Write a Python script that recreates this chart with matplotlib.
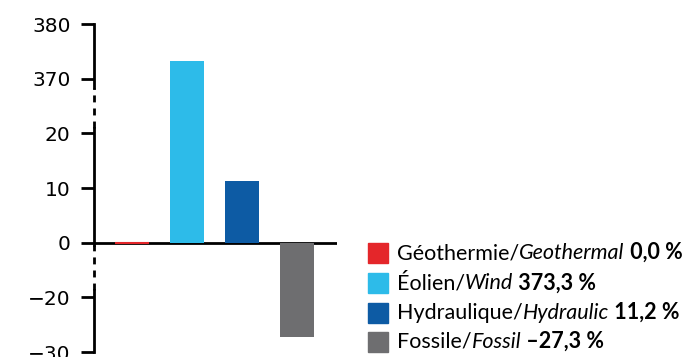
import numpy as np
import matplotlib
matplotlib.use("Agg")
import matplotlib.pyplot as plt
from matplotlib.patches import Rectangle

# energy sources and their change in percent
labels_fr = ["Géothermie/", "Éolien/", "Hydraulique/", "Fossile/"]
labels_en = ["Geothermal", "Wind", "Hydraulic", "Fossil"]
values = [0.0, 373.3, 11.2, -27.3]
value_text = ["0,0 %", "373,3 %", "11,2 %", "\u201327,3 %"]
colors = ["#E4262A", "#2DBBE9", "#0D5BA4", "#6E6E70"]

yticks = [-30, -20, 0, 10, 20, 370, 380]
ytick_labels = ["\u221230", "\u221220", "0", "10", "20", "370", "380"]

# broken y axis: piecewise linear mapping
brk_data = [-30, -20, 0, 20, 370, 380]
brk_pos = [0, 1, 2, 4, 5, 6]

def fwd(y):
    return np.interp(y, brk_data, brk_pos)

def inv(p):
    return np.interp(p, brk_pos, brk_data)

fig = plt.figure(figsize=(6.89, 3.57), dpi=100)
ax = fig.add_axes([93.5 / 689, 1 - 352 / 357, (337 - 93.5) / 689, (352 - 24) / 357])
ax.set_yscale("function", functions=(fwd, inv))
ax.set_ylim(-30, 380)
ax.set_xlim(-0.71, 3.73)

x = np.arange(len(values))
ax.axhline(0, color="black", lw=2, zorder=1)
ax.bar(x, values, width=0.62, color=colors, zorder=2)
# zero-height geothermal bar shows as a thin line
ax.bar(x[0], values[0], width=0.62, color=colors[0], edgecolor=colors[0], lw=1.5, zorder=3)

for s in ["top", "right", "bottom", "left"]:
    ax.spines[s].set_visible(False)
ax.set_xticks([])
ax.set_yticks(yticks)
ax.set_yticklabels(ytick_labels, fontsize=14.5, family="DejaVu Sans")
ax.tick_params(axis="y", direction="out", length=9.5, width=2, pad=7)

# left axis line, dashed over the breaks
u = 54.7
segs = [
    (0, 1 + 7 / u, "-"),
    (1 + 7 / u, 2 - 2 / u, "--"),
    (2 - 2 / u, 4 + 5 / u, "-"),
    (4 + 5 / u, 5 - 9 / u, "--"),
    (5 - 9 / u, 6, "-"),
]
for a, b, ls in segs:
    line, = ax.plot([0, 0], [a / 6, b / 6], transform=ax.transAxes, color="black",
                    lw=2, clip_on=False, solid_capstyle="projecting")
    if ls == "--":
        line.set_dashes([2.5, 2.2])
        line.set_dash_capstyle("butt")

# legend
leg_font = "Lato"
fs = 15.5
row_y = [253, 283, 313, 342]
for i in range(len(values)):
    yc = 1 - row_y[i] / 357
    fig.patches.append(Rectangle((368 / 689, yc - 10 / 357), 20 / 689, 20 / 357,
                                 transform=fig.transFigure, color=colors[i]))
    t1 = fig.text(397 / 689, yc, labels_fr[i], fontsize=fs, family=leg_font,
                  va="center", ha="left")
    t2 = ax.annotate(labels_en[i], xy=(1, 0), xycoords=t1, va="bottom", ha="left",
                     fontsize=fs, family=leg_font, style="italic", annotation_clip=False)
    ax.annotate(" " + value_text[i], xy=(1, 0), xycoords=t2, va="bottom", ha="left",
                fontsize=fs, family=leg_font, weight="bold", annotation_clip=False)

fig.savefig("out.png", dpi=100)
